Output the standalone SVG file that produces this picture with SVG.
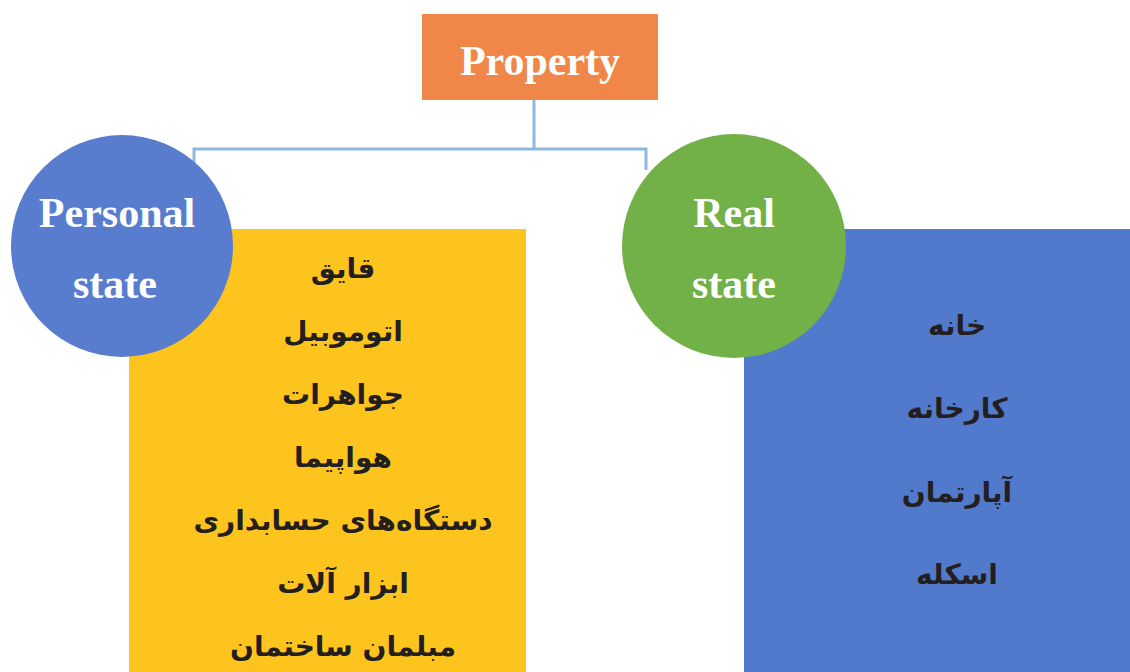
<svg xmlns="http://www.w3.org/2000/svg" width="1130" height="672" viewBox="0 0 1130 672">
<style>
.conn{fill:none;stroke:#8BB9E3;stroke-width:3}
.title{font-family:"Liberation Serif",serif;font-weight:bold;font-size:42px;fill:#FFFFFF;text-anchor:middle}
.fa{font-family:"DejaVu Sans","Noto Sans",sans-serif;font-weight:bold;font-size:28px;fill:#231F20;text-anchor:middle}
</style>
<rect width="1130" height="672" fill="#FFFFFF"/>
<g id="connectors">
<path class="conn" d="M534 100 V149 M194 170 V149 H646 V170"/>
</g>
<g id="personal-list">
<rect x="129" y="229" width="397" height="443" fill="#FEC41E"/>
<text class="fa" x="343" y="278" direction="rtl">قایق</text>
<text class="fa" x="343" y="341" direction="rtl">اتوموبیل</text>
<text class="fa" x="343" y="404" direction="rtl">جواهرات</text>
<text class="fa" x="343" y="467" direction="rtl">هواپیما</text>
<text class="fa" x="343" y="530" direction="rtl">دستگاه‌های حسابداری</text>
<text class="fa" x="343" y="593" direction="rtl">ابزار آلات</text>
<text class="fa" x="343" y="656" direction="rtl">مبلمان ساختمان</text>
</g>
<g id="real-list">
<rect x="744" y="229" width="386" height="443" fill="#527ACC"/>
<text class="fa" x="957" y="335" direction="rtl">خانه</text>
<text class="fa" x="957" y="418" direction="rtl">کارخانه</text>
<text class="fa" x="957" y="502" direction="rtl">آپارتمان</text>
<text class="fa" x="957" y="584" direction="rtl">اسکله</text>
</g>
<g id="property">
<rect x="422" y="14" width="236" height="86" fill="#F08648"/>
<text class="title" x="540" y="75">Property</text>
</g>
<g id="personal-state">
<circle cx="122" cy="246" r="111" fill="#587DCF"/>
<text class="title" x="117" y="227">Personal</text>
<text class="title" x="115" y="298">state</text>
</g>
<g id="real-state">
<circle cx="734" cy="246" r="112" fill="#72B147"/>
<text class="title" x="734" y="227">Real</text>
<text class="title" x="734" y="298">state</text>
</g>
</svg>
